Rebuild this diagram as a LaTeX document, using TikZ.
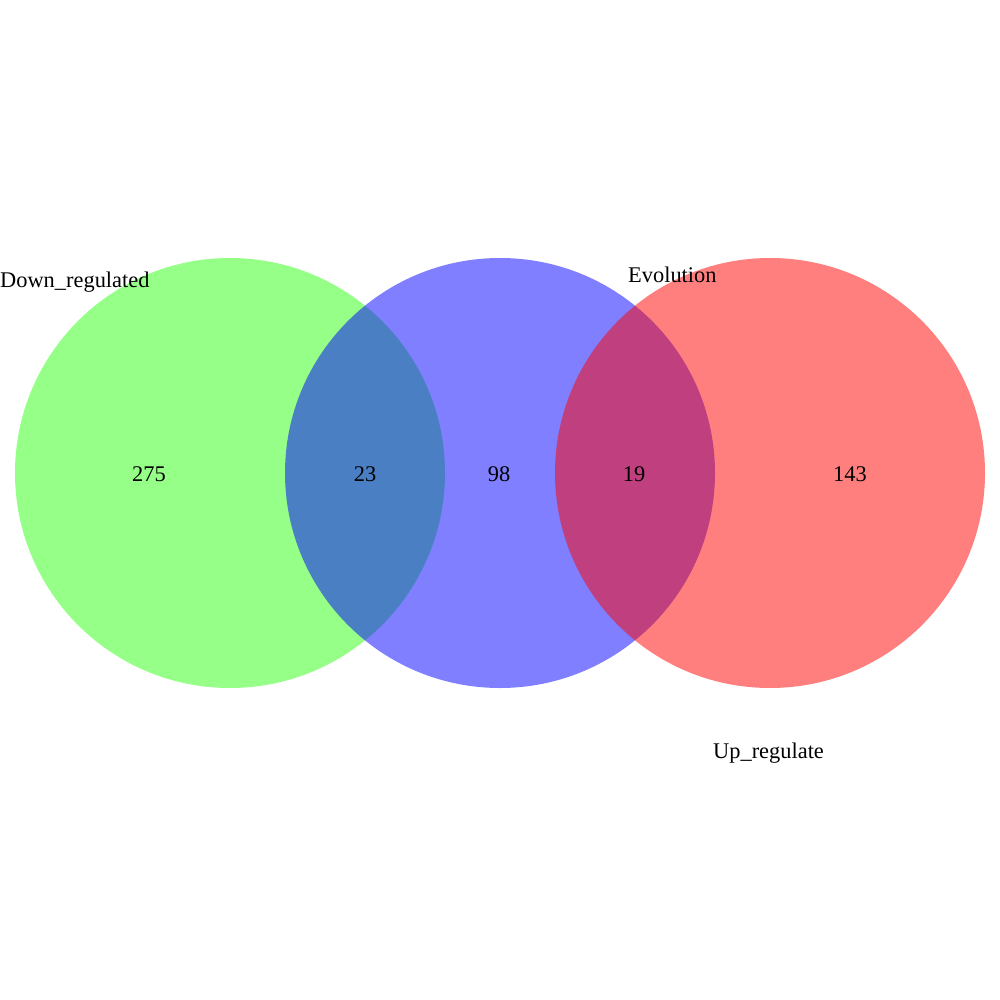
\documentclass[tikz,border=0pt]{standalone}
\usepackage{fontspec}
\setmainfont{Liberation Serif}
\definecolor{gfill}{RGB}{45,255,17}
\definecolor{bfill}{RGB}{0,0,255}
\definecolor{rfill}{RGB}{255,0,0}
\begin{document}
\begin{tikzpicture}[x=1pt,y=-1pt,
  setcircle/.style={fill opacity=0.5, draw=none},
  lbl/.style={font=\fontsize{22.4}{25}\selectfont, inner sep=0pt, text=black},
  num/.style={font=\fontsize{22.4}{25}\selectfont, inner sep=0pt, text=black}]
\useasboundingbox (0,0) rectangle (1000,1000);
\fill[white] (0,0) rectangle (1000,1000);
\path[setcircle, fill=gfill] (230,473) circle (215);
\path[setcircle, fill=bfill] (500,473) circle (215);
\path[setcircle, fill=rfill] (770,473) circle (215);
\node[num] (n275) at (149,474) {275};
\node[num] (n23) at (365,474) {23};
\node[num] (n98) at (499,474) {98};
\node[num] (n19) at (634,474) {19};
\node[num] (n143) at (850,474) {143};
\node[lbl, anchor=base west] (down) at (0,287) {Down\_regulated};
\node[lbl, anchor=base west] (evo) at (628,282) {Evolution};
\node[lbl, anchor=base west] (up) at (713,758) {Up\_regulate};
\end{tikzpicture}
\end{document}
